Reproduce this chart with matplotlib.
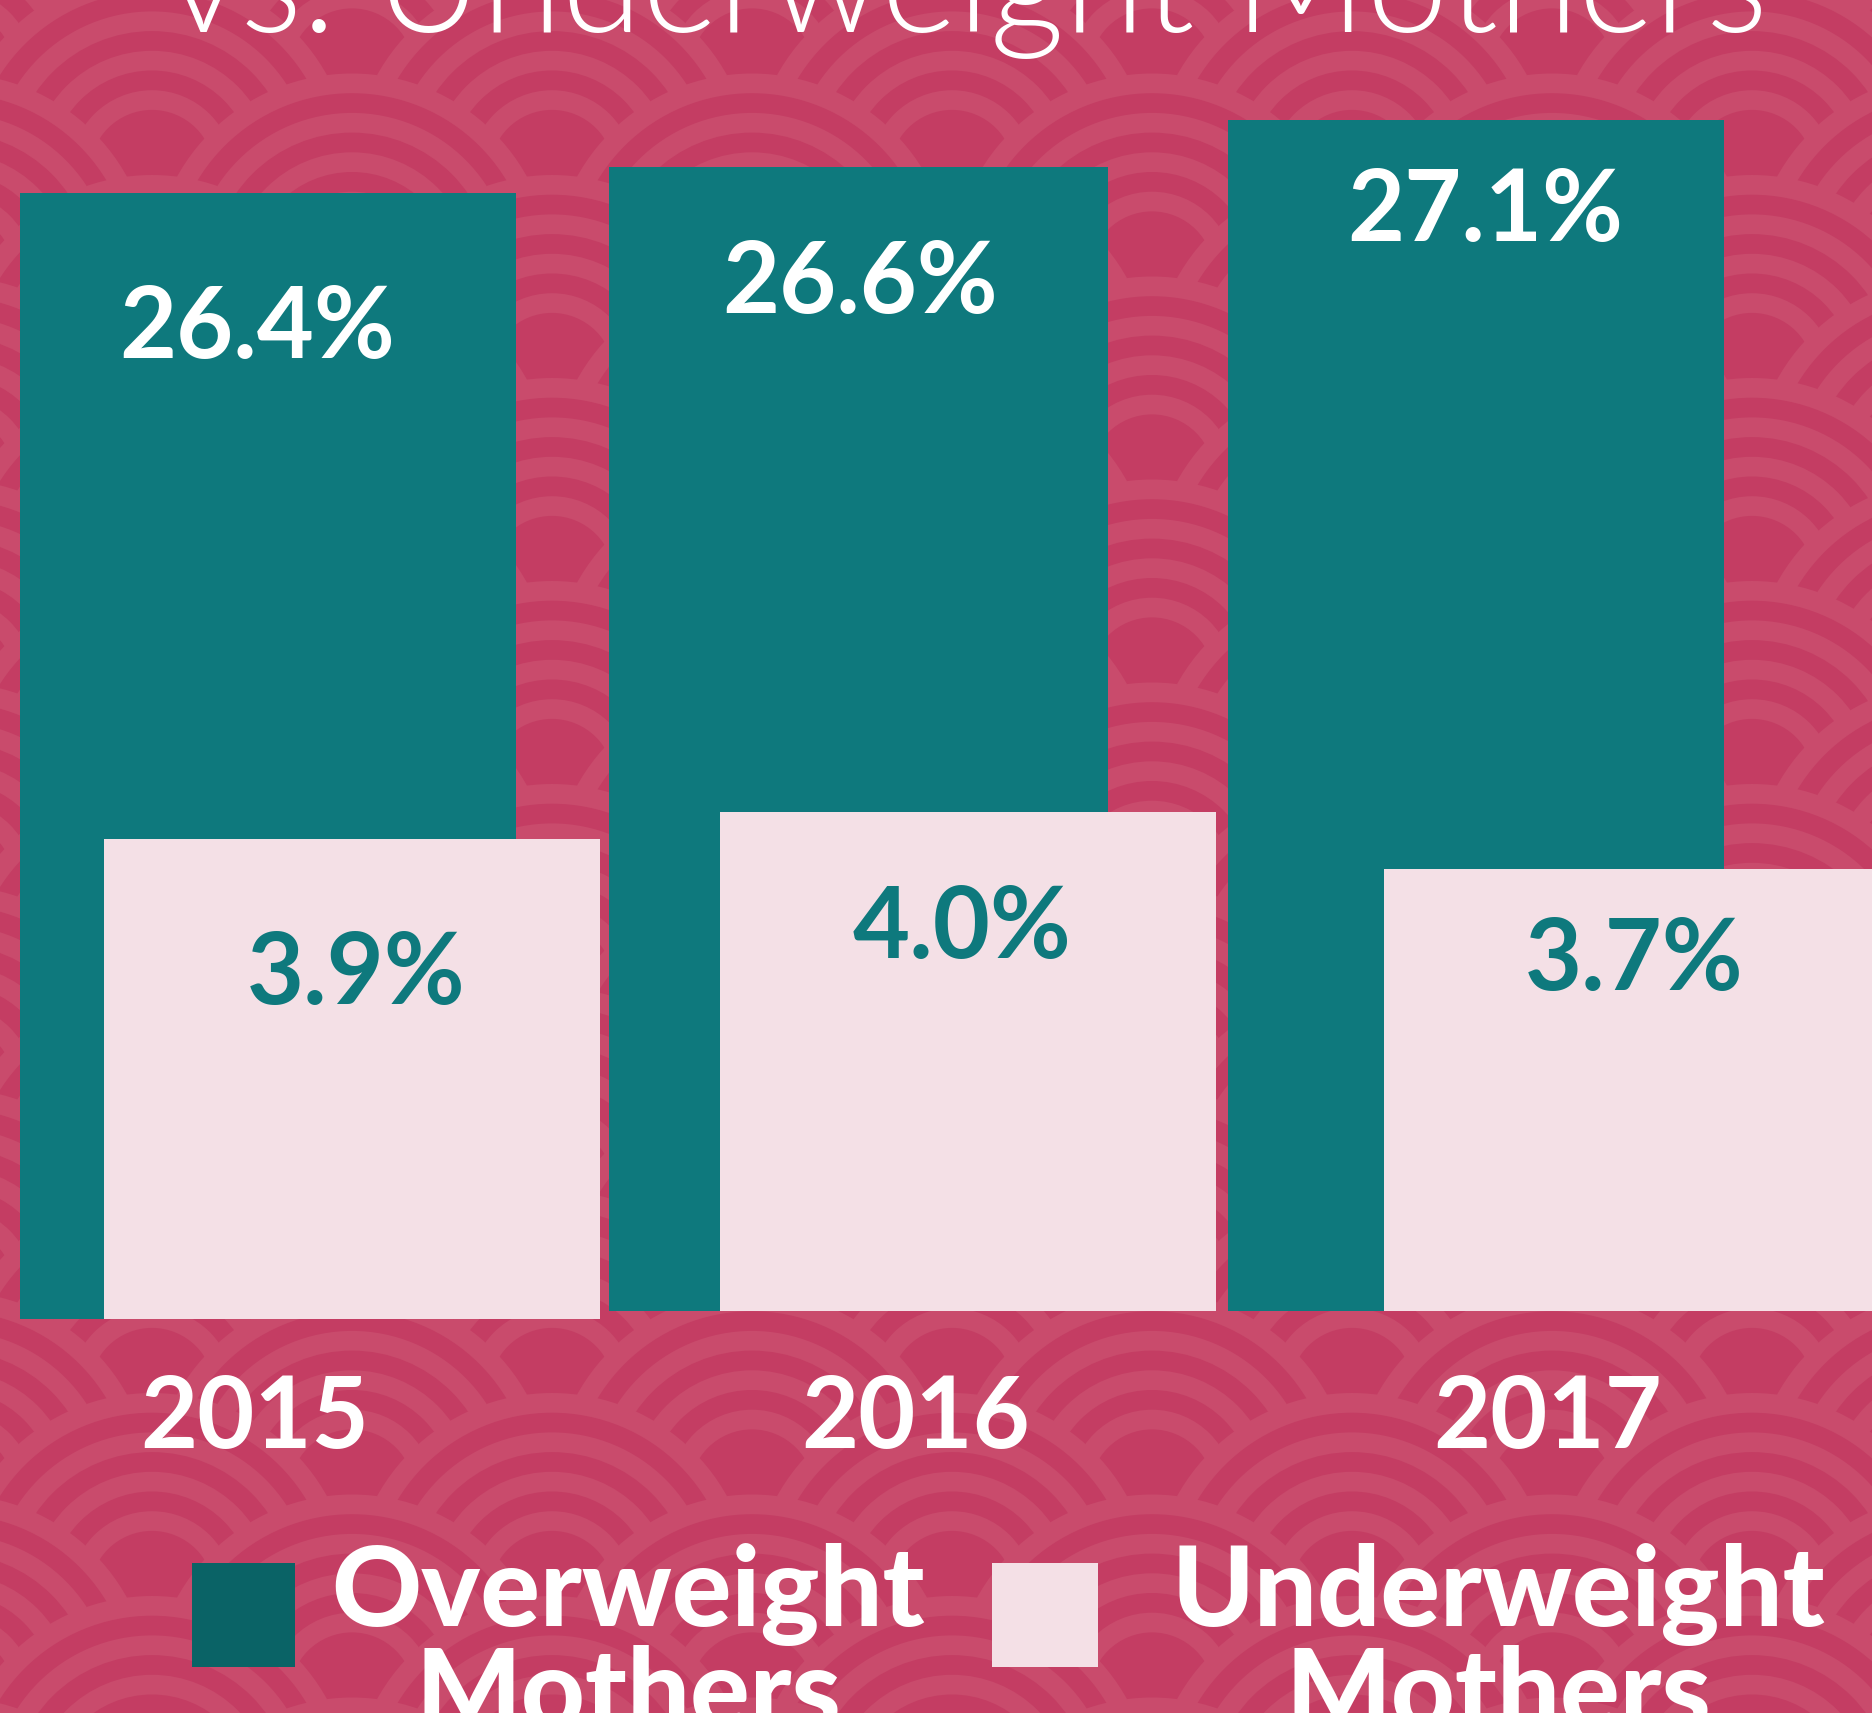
import matplotlib
matplotlib.use("Agg")
import matplotlib.pyplot as plt
from matplotlib.patches import Circle, Rectangle
import numpy as np

# ---------------- data ----------------
years = ["2015", "2016", "2017"]
overweight = [26.4, 26.6, 27.1]
underweight = [3.9, 4.0, 3.7]
legend_labels = ["Overweight", "Underweight"]
legend_second_line = ["Mothers", "Mothers"]
title_text = "vs. Underweight Mothers"

# ---------------- style / layout ----------------
W, H = 1872, 1713
BG_DARK = "#C43D63"
BG_LIGHT = "#C94B6C"
TEAL = "#0E797D"
TEAL_DARK = "#0A6366"
PINK = "#F4E0E6"
FONT = "Lato"

fig = plt.figure(figsize=(W / 100, H / 100), dpi=100)
fig.patch.set_facecolor(BG_DARK)

# ---- decorative seigaiha background ----
bg = fig.add_axes([0, 0, 1, 1])
bg.set_xlim(0, W)
bg.set_ylim(H, 0)
bg.axis("off")
bg.set_zorder(0)
R, band, row_step = 200, 19.7, 101.5
y_ref, x_even, x_odd = 1390, 152, 352
radii = [R - i * band for i in range(8)]
for m in range(-17, 7):
    yc = y_ref + m * row_step
    xoff = x_even if m % 2 == 0 else x_odd
    for xc in np.arange(xoff - 800, W + 400, 400):
        for i, r in enumerate(radii):
            bg.add_patch(Circle((xc, yc), r, facecolor=BG_LIGHT if i % 2 == 0 else BG_DARK,
                                edgecolor="none", linewidth=0))

# ---- bars (two overlaid scales) ----
BASE_Y = H - 1311              # baseline, pixels from bottom
ow_k, ow_b = 92.8, 14.27       # px per unit, value at baseline
uw_k, uw_b = 191.8, 1.398
group_drop_px = [8, 0, 0]

ow_x = [268, 858.5, 1476]
ow_w = [496, 499, 496]
uw_x = [352, 968, 1632]
uw_w = [496, 496, 496]

ax1 = fig.add_axes([0, 0, 1, 1])
ax1.set_xlim(0, W)
ax1.set_ylim(ow_b - BASE_Y / ow_k, ow_b + (H - BASE_Y) / ow_k)
ax1.axis("off")
ax1.patch.set_alpha(0)
ax1.set_zorder(1)

ax2 = fig.add_axes([0, 0, 1, 1])
ax2.set_xlim(0, W)
ax2.set_ylim(uw_b - BASE_Y / uw_k, uw_b + (H - BASE_Y) / uw_k)
ax2.axis("off")
ax2.patch.set_alpha(0)
ax2.set_zorder(2)

ow_bottom = [ow_b - d / ow_k for d in group_drop_px]
uw_bottom = [uw_b - d / uw_k for d in group_drop_px]
ow_h = [v - ow_b for v in overweight]
uw_h = [v - uw_b for v in underweight]
ax1.bar(ow_x, ow_h, width=ow_w, bottom=ow_bottom, color=TEAL, linewidth=0)
ax2.bar(uw_x, uw_h, width=uw_w, bottom=uw_bottom, color=PINK, linewidth=0)

label_drop = [165, 146, 121]
ow_dx = [-11, 2, 9]
uw_dx = [4, -6, 2]
for x, v, b, h, d, dx in zip(ow_x, overweight, ow_bottom, ow_h, label_drop, ow_dx):
    ax1.annotate(f"{v:.1f}%", xy=(x, b + h), xytext=(dx, -d), textcoords="offset pixels",
                 ha="center", va="baseline", fontsize=71, fontfamily=FONT,
                 fontweight="bold", color="white")
for x, v, b, h, d, dx in zip(uw_x, underweight, uw_bottom, uw_h, label_drop, uw_dx):
    ax2.annotate(f"{v:.1f}%", xy=(x, b + h), xytext=(dx, -d), textcoords="offset pixels",
                 ha="center", va="baseline", fontsize=71, fontfamily=FONT,
                 fontweight="bold", color=TEAL)

# ---- year labels ----
year_x = [255, 916, 1548]
for x, y in zip(year_x, years):
    fig.text(x / W, 1 - 1448 / H, y, ha="center", va="baseline", fontsize=71,
             fontfamily=FONT, fontweight="bold", color="white", zorder=5)

# ---- title (cut at top) ----
t = fig.text(967 / W, 1 - 32 / H, title_text, ha="center", va="baseline", fontsize=100,
             fontfamily=FONT, fontweight=300, color="white", zorder=5)
fig.canvas.draw()
tw = t.get_window_extent(fig.canvas.get_renderer()).width
t.set_fontsize(100 * 1600 / tw)

# ---- legend ----
sq = [(192, 1563, 103, 104, TEAL_DARK), (992, 1563, 106, 104, PINK)]
for x, y, w, h, c in sq:
    fig.add_artist(Rectangle((x / W, 1 - (y + h) / H), w / W, h / H,
                             transform=fig.transFigure, facecolor=c, edgecolor="none",
                             zorder=5))
leg_cx = [628, 1498]
for cx, l1, l2 in zip(leg_cx, legend_labels, legend_second_line):
    fig.text(cx / W, 1 - 1626 / H, l1, ha="center", va="baseline", fontsize=80,
             fontfamily=FONT, fontweight="black", color="white", zorder=5)
    fig.text(cx / W, 1 - 1728 / H, l2, ha="center", va="baseline", fontsize=80,
             fontfamily=FONT, fontweight="black", color="white", zorder=5)

fig.savefig("out.png", dpi=100, facecolor=fig.get_facecolor())
